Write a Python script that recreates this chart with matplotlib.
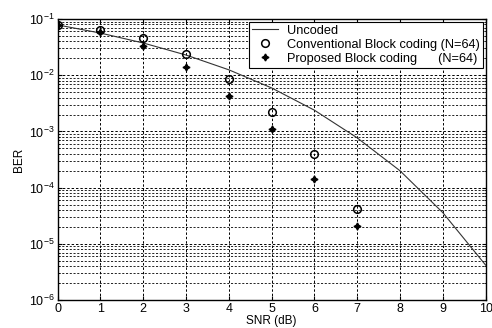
import matplotlib
matplotlib.use("Agg")
import matplotlib.pyplot as plt
from matplotlib.ticker import LogLocator, NullFormatter

plt.rcParams['font.family'] = ['Liberation Sans', 'DejaVu Sans']

# data
snr_uncoded = [0, 1, 2, 3, 4, 5, 6, 7, 8, 9, 10]
ber_uncoded = [0.0786, 0.0563, 0.0375, 0.0229, 0.0125, 0.00595,
               0.00239, 0.00077, 0.00020, 3.6e-5, 4.2e-6]

snr_coded = [0, 1, 2, 3, 4, 5, 6, 7]
ber_conv = [0.078, 0.063, 0.046, 0.0235, 0.0085, 0.0022, 4.0e-4, 4.2e-5]
ber_prop = [0.078, 0.058, 0.033, 0.0142, 0.0043, 0.0011, 1.4e-4, 2.1e-5]

x_ticks = list(range(11))

fig = plt.figure(figsize=(4.92, 3.28), dpi=100)
ax = fig.add_axes([0.117, 0.085, 0.870, 0.857])

ax.semilogy(snr_uncoded, ber_uncoded, '-', color='#333333', lw=0.8,
            label='Uncoded')
ax.semilogy(snr_coded, ber_conv, 'o', mfc='none', mec='black', ms=5.5,
            mew=1.1, label='Conventional Block coding (N=64)')
ax.semilogy(snr_coded, ber_prop, marker=(4, 1, 0), ls='none', color='black',
            ms=5, label='Proposed Block coding      (N=64)')

ax.set_xlim(0, 10)
ax.set_ylim(1e-6, 1e-1)
ax.set_xticks(x_ticks)
ax.yaxis.set_major_locator(LogLocator(base=10, numticks=10))
ax.yaxis.set_minor_locator(LogLocator(base=10, subs=range(2, 10), numticks=20))
ax.yaxis.set_minor_formatter(NullFormatter())

ax.grid(True, which='major', ls=(0, (2.5, 2)), color='black', lw=0.7)
ax.grid(True, which='minor', axis='y', ls=(0, (2.5, 2)), color='black', lw=0.6)
ax.tick_params(direction='in', labelsize=9, length=3, top=True, right=True, pad=2)
ax.tick_params(which='minor', direction='in', length=1.5, right=True)
for s in ax.spines.values():
    s.set_linewidth(1.0)

ax.set_xlabel('SNR (dB)', fontsize=8.5, labelpad=0)
ax.set_ylabel('BER', fontsize=8.5, labelpad=3)

leg = ax.legend(loc='upper right', fontsize=9.2, frameon=True, fancybox=False,
                edgecolor='black', framealpha=1, borderpad=0.25,
                handlelength=2.0, handletextpad=0.7, labelspacing=0.15,
                borderaxespad=0.2)
leg.get_frame().set_linewidth(0.8)

fig.savefig('out.png', dpi=100)
